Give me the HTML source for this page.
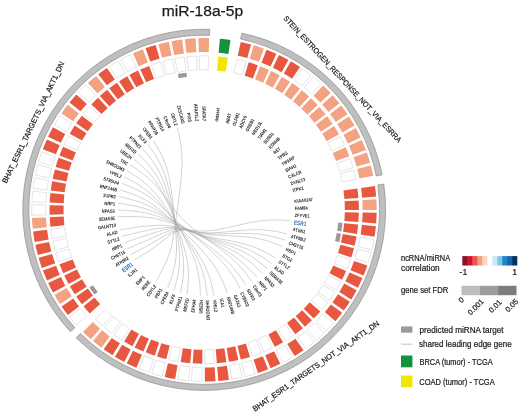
<!DOCTYPE html>
<html><head><meta charset="utf-8"><style>
html,body{margin:0;padding:0;background:#fff;}
body{width:520px;height:414px;overflow:hidden;position:relative;}
svg{position:absolute;left:0;top:0;filter:blur(0.3px);}
text{font-family:"Liberation Sans",sans-serif;}
.lab text{font-size:4.8px;fill:#1a1a1a;font-weight:bold;}
.lab text.esr{font-size:6.3px;fill:#2f6fbf;font-weight:bold;}
.t{font-size:15.2px;fill:#1a1a1a;stroke:#1a1a1a;stroke-width:0.25px;}
.gs{font-size:7.6px;fill:#1a1a1a;stroke:#1a1a1a;stroke-width:0.22px;}
.lg{font-size:8.2px;fill:#222;stroke:#222;stroke-width:0.22px;}
</style></head><body>
<svg width="520" height="414" viewBox="0 0 520 414">
<text class="t" x="161.7" y="15.6" textLength="81.4" lengthAdjust="spacingAndGlyphs">miR-18a-5p</text>
<g transform="translate(-0.92 0) scale(1.0045 1)"><path d="M241.75 33.15A180.6 180.6 0 0 1 381.36 174.73L375.48 175.9A174.6 174.6 0 0 0 240.5 39.02Z" fill="#bfbfbf" stroke="#969696" stroke-width="0.8"/>
<path d="M382.95 184.04A180.6 180.6 0 0 1 76.8 337.8L81.03 333.55A174.6 174.6 0 0 0 377.01 184.9Z" fill="#bfbfbf" stroke="#969696" stroke-width="0.8"/>
<path d="M71.05 331.81A180.6 180.6 0 0 1 209.73 29.28L209.55 35.28A174.6 174.6 0 0 0 75.47 327.76Z" fill="#bfbfbf" stroke="#969696" stroke-width="0.8"/>
<g fill="none" stroke="#a6a6a6" stroke-width="0.5"><path d="M134.63 260.36L138.96 257.58C143.28 254.8 151.94 249.24 159.56 243.4C167.18 237.57 173.77 231.47 181.03 230.07C188.29 228.66 196.21 231.94 209.27 230.8C222.33 229.66 240.53 224.09 254.76 221.67C268.99 219.24 279.25 219.95 284.38 220.31L289.51 220.67"/><path d="M130.88 254.75L135.4 252.35C139.93 249.95 148.98 245.15 157.14 240.3C165.3 235.45 172.58 230.55 180.19 229.84C187.79 229.13 195.73 232.61 208.55 232.85C221.37 233.09 239.08 230.09 252.94 229.72C266.79 229.34 276.78 231.59 281.78 232.71L286.77 233.84"/><path d="M127.58 248.86L132.28 246.83C136.98 244.79 146.37 240.71 155.02 236.82C163.66 232.93 171.55 229.22 179.46 229.16C187.38 229.11 195.33 232.7 207.97 233.65C220.61 234.59 237.95 232.87 251.51 233.53C265.07 234.18 274.85 237.2 279.75 238.71L284.64 240.22"/><path d="M124.76 242.74L129.6 241.07C134.44 239.41 144.13 236.08 153.17 233.18C162.22 230.28 170.62 227.81 178.8 228.43C186.97 229.05 194.92 232.77 207.32 234.4C219.73 236.02 236.59 235.56 249.78 237.21C262.97 238.87 272.49 242.64 277.25 244.53L282.01 246.42"/><path d="M122.42 236.41L127.36 235.16C132.3 233.91 142.18 231.41 151.52 229.58C160.85 227.76 169.63 226.61 177.97 227.99C186.32 229.36 194.22 233.26 205.98 236.13C217.74 238.99 233.35 240.82 245.55 244.32C257.76 247.81 266.55 252.96 270.95 255.53L275.35 258.11"/><path d="M120.59 229.92L125.61 229.06C130.63 228.2 140.68 226.48 150.25 225.7C159.82 224.91 168.92 225.06 177.4 227.14C185.89 229.22 193.77 233.24 205.15 236.72C216.52 240.19 231.39 243.12 243.01 247.5C254.62 251.88 262.99 257.7 267.17 260.61L271.35 263.52"/><path d="M118.47 216.61L123.59 216.52C128.71 216.43 138.95 216.26 148.8 217.54C158.65 218.82 168.1 221.57 176.76 225.04C185.41 228.51 193.27 232.72 204.23 236.84C215.18 240.96 229.22 245 240.19 250.28C251.16 255.56 259.05 262.09 263 265.35L266.95 268.61"/><path d="M118.2 209.87L123.31 210.18C128.42 210.5 138.65 211.12 148.49 213.48C158.33 215.83 167.78 219.91 176.42 224.11C185.06 228.31 192.87 232.62 203.34 237.29C213.82 241.95 226.95 246.96 237.19 253.03C247.44 259.09 254.8 266.22 258.48 269.78L262.15 273.34"/><path d="M118.46 203.13L123.7 203.93C128.95 204.74 139.44 206.35 149.53 209.96C159.63 213.57 169.33 219.16 183.62 226.85C197.9 234.54 216.77 244.31 229.76 253.13C242.76 261.95 249.88 269.81 253.44 273.75L257.01 277.68"/><path d="M119.25 196.43L124.37 197.67C129.5 198.9 139.76 201.38 149.6 206.11C159.43 210.84 168.84 217.83 181.89 226.97C194.93 236.11 211.61 247.4 222.87 257.44C234.12 267.49 239.95 276.29 242.86 280.68L245.78 285.08"/><path d="M120.56 189.81L125.49 191.48C130.43 193.14 140.3 196.47 149.7 202.31C159.1 208.16 168.03 216.52 179.01 227.13C190 237.74 203.05 250.59 211.41 261.89C219.77 273.19 223.44 282.94 225.28 287.82L227.11 292.69"/><path d="M124.71 176.99L129.32 179.4C133.94 181.82 143.17 186.65 151.77 194.5C160.36 202.36 168.32 213.24 177.51 225.43C186.71 237.62 197.15 251.13 203.42 262.98C209.69 274.84 211.8 285.05 212.85 290.15L213.91 295.25"/><path d="M127.52 170.86L131.94 173.63C136.35 176.4 145.18 181.93 153.25 190.74C161.33 199.55 168.65 211.62 176.87 224.5C185.08 237.37 194.18 251.05 199.39 263.06C204.59 275.07 205.89 285.41 206.54 290.58L207.19 295.75"/><path d="M134.55 159.35L138.52 162.78C142.49 166.21 150.42 173.07 157.33 183.65C164.24 194.23 170.12 208.53 176.92 222.59C183.71 236.65 191.42 250.46 195.5 262.61C199.58 274.76 200.02 285.24 200.24 290.48L200.46 295.72"/><path d="M138.72 154.05L142.36 157.77C146.01 161.49 153.3 168.94 159.4 180.32C165.5 191.69 170.41 207 175.4 221.44C180.38 235.88 185.46 249.44 187.42 261.4C189.39 273.37 188.25 283.73 187.68 288.91L187.11 294.08"/><path d="M143.29 149.09L146.63 153.09C149.98 157.08 156.66 165.08 161.97 177.2C167.29 189.32 171.23 205.57 175.07 220.35C178.91 235.14 182.66 248.46 183.56 260.24C184.46 272.01 182.51 282.25 181.54 287.37L180.57 292.49"/><path d="M148.23 144.5L151.25 148.75C154.27 153 160.31 161.49 164.78 174.29C169.25 187.09 172.15 204.2 174.83 219.25C177.5 234.29 179.95 247.26 179.8 258.77C179.66 270.28 176.91 280.33 175.54 285.36L174.17 290.39"/><path d="M153.52 140.32L156.2 144.79C158.88 149.26 164.24 158.2 167.81 171.61C171.39 185.03 173.19 202.92 174.68 218.12C176.17 233.33 177.34 245.85 176.17 257.01C175 268.17 171.48 277.98 169.72 282.89L167.96 287.79"/><path d="M177.45 128.07L178.68 133.2C179.91 138.33 182.38 148.59 182.12 163.81C181.87 179.03 178.88 199.21 176.7 215C174.51 230.79 173.12 242.18 169.84 252.48C166.57 262.78 161.4 271.98 158.82 276.58L156.24 281.19"/><path d="M130.81 164.97L135.31 167.99C139.81 171 148.82 177.04 156.94 186.58C165.07 196.12 172.31 209.15 184.76 221.18C197.2 233.2 214.85 244.22 226.85 254.12C238.85 264.02 245.19 272.81 248.36 277.2L251.54 281.6"/><path d="M122.38 183.32L127.29 185.32C132.2 187.33 142.03 191.35 151.3 198.14C160.58 204.93 169.31 214.49 181.41 225.29C193.51 236.1 208.99 248.14 219.27 258.82C229.56 269.49 234.66 278.8 237.21 283.45L239.76 288.1"/></g>
<path d="M240.56 41.99A171.7 171.7 0 0 1 250.88 44.57L247.07 58.04A157.7 157.7 0 0 0 237.59 55.68Z" fill="#e8573f"/>
<path d="M236.81 59.29A154 154 0 0 1 246.07 61.6L242.26 75.07A140 140 0 0 0 233.85 72.97Z" fill="#fff" stroke="#c8c8c8" stroke-width="0.5"/>
<path d="M253.57 45.35A171.7 171.7 0 0 1 263.66 48.72L258.81 61.86A157.7 157.7 0 0 0 249.55 58.76Z" fill="#f3a282"/>
<path d="M248.48 62.3A154 154 0 0 1 257.53 65.33L252.68 78.46A140 140 0 0 0 244.46 75.71Z" fill="#e8573f"/>
<path d="M266.28 49.72A171.7 171.7 0 0 1 276.08 53.87L270.22 66.58A157.7 157.7 0 0 0 261.22 62.77Z" fill="#e8573f"/>
<path d="M259.88 66.22A154 154 0 0 1 268.67 69.94L262.81 82.66A140 140 0 0 0 254.82 79.27Z" fill="#f3a282"/>
<path d="M278.61 55.06A171.7 171.7 0 0 1 288.05 59.97L281.21 72.18A157.7 157.7 0 0 0 272.55 67.68Z" fill="#e8573f"/>
<path d="M270.94 71.01A154 154 0 0 1 279.41 75.41L272.57 87.63A140 140 0 0 0 264.87 83.63Z" fill="#f3a282"/>
<path d="M290.49 61.36A171.7 171.7 0 0 1 299.51 66.99L291.74 78.63A157.7 157.7 0 0 0 283.45 73.46Z" fill="#e8573f"/>
<path d="M281.59 76.66A154 154 0 0 1 289.69 81.71L281.92 93.35A140 140 0 0 0 274.56 88.76Z" fill="#f3a282"/>
<path d="M301.83 68.56A171.7 171.7 0 0 1 310.39 74.88L301.73 85.88A157.7 157.7 0 0 0 293.87 80.08Z" fill="#fff" stroke="#c8c8c8" stroke-width="0.5"/>
<path d="M291.77 83.12A154 154 0 0 1 299.45 88.79L290.79 99.79A140 140 0 0 0 283.81 94.64Z" fill="#f3a282"/>
<path d="M312.58 76.63A171.7 171.7 0 0 1 320.62 83.6L311.13 93.89A157.7 157.7 0 0 0 303.75 87.49Z" fill="#fff" stroke="#c8c8c8" stroke-width="0.5"/>
<path d="M301.41 90.36A154 154 0 0 1 308.62 96.61L299.13 106.9A140 140 0 0 0 292.57 101.22Z" fill="#f3a282"/>
<path d="M322.67 85.52A171.7 171.7 0 0 1 330.13 93.09L319.87 102.61A157.7 157.7 0 0 0 313.01 95.65Z" fill="#f3a282"/>
<path d="M310.45 98.33A154 154 0 0 1 317.15 105.12L306.88 114.64A140 140 0 0 0 300.79 108.46Z" fill="#f3a282"/>
<path d="M332.02 95.16A171.7 171.7 0 0 1 338.88 103.3L327.9 111.98A157.7 157.7 0 0 0 321.6 104.51Z" fill="#f3a282"/>
<path d="M318.85 106.98A154 154 0 0 1 324.99 114.28L314.01 122.96A140 140 0 0 0 308.42 116.33Z" fill="#f3a282"/>
<path d="M340.6 105.51A171.7 171.7 0 0 1 346.79 114.16L335.17 121.96A157.7 157.7 0 0 0 329.48 114.01Z" fill="#f3a282"/>
<path d="M326.54 116.26A154 154 0 0 1 332.1 124.02L320.47 131.82A140 140 0 0 0 315.42 124.77Z" fill="#f3a282"/>
<path d="M348.34 116.5A171.7 171.7 0 0 1 353.84 125.6L341.64 132.47A157.7 157.7 0 0 0 336.59 124.11Z" fill="#f3a282"/>
<path d="M333.48 126.12A154 154 0 0 1 338.41 134.28L326.21 141.15A140 140 0 0 0 321.73 133.72Z" fill="#f3a282"/>
<path d="M355.19 128.06A171.7 171.7 0 0 1 359.97 137.57L347.27 143.46A157.7 157.7 0 0 0 342.88 134.72Z" fill="#f3a282"/>
<path d="M339.63 136.49A154 154 0 0 1 343.91 145.01L331.21 150.9A140 140 0 0 0 327.32 143.15Z" fill="#fff" stroke="#c8c8c8" stroke-width="0.5"/>
<path d="M361.13 140.12A171.7 171.7 0 0 1 365.14 149.97L352.02 154.85A157.7 157.7 0 0 0 348.33 145.8Z" fill="#f3a282"/>
<path d="M344.95 147.3A154 154 0 0 1 348.55 156.14L335.43 161.02A140 140 0 0 0 332.15 152.98Z" fill="#f3a282"/>
<path d="M366.09 152.61A171.7 171.7 0 0 1 369.33 162.74L355.86 166.58A157.7 157.7 0 0 0 352.89 157.27Z" fill="#f3a282"/>
<path d="M349.41 158.5A154 154 0 0 1 352.3 167.59L338.84 171.43A140 140 0 0 0 336.2 163.17Z" fill="#fff" stroke="#c8c8c8" stroke-width="0.5"/>
<path d="M370.07 165.44A171.7 171.7 0 0 1 372.5 175.8L358.78 178.57A157.7 157.7 0 0 0 356.55 169.06Z" fill="#f3a282"/>
<path d="M352.97 170.02A154 154 0 0 1 355.15 179.31L341.43 182.08A140 140 0 0 0 339.45 173.63Z" fill="#fff" stroke="#c8c8c8" stroke-width="0.5"/>
<path d="M374.24 185.98A171.7 171.7 0 0 1 375.39 196.55L361.43 197.63A157.7 157.7 0 0 0 360.37 187.92Z" fill="#e8573f"/>
<path d="M356.71 188.43A154 154 0 0 1 357.74 197.92L343.78 199A140 140 0 0 0 342.85 190.38Z" fill="#e8573f"/>
<path d="M375.58 199.35A171.7 171.7 0 0 1 375.9 209.98L361.9 209.97A157.7 157.7 0 0 0 361.61 200.2Z" fill="#f3a282"/>
<path d="M357.91 200.43A154 154 0 0 1 358.2 209.96L344.2 209.95A140 140 0 0 0 343.94 201.28Z" fill="#e8573f"/>
<path d="M375.87 212.79A171.7 171.7 0 0 1 375.36 223.41L361.4 222.3A157.7 157.7 0 0 0 361.88 212.54Z" fill="#e8573f"/>
<path d="M358.18 212.48A154 154 0 0 1 357.72 222.01L343.76 220.9A140 140 0 0 0 344.18 212.24Z" fill="#e8573f"/>
<path d="M375.11 226.21A171.7 171.7 0 0 1 373.77 236.76L359.94 234.56A157.7 157.7 0 0 0 361.18 224.87Z" fill="#e8573f"/>
<path d="M357.5 224.51A154 154 0 0 1 356.29 233.98L342.46 231.78A140 140 0 0 0 343.56 223.18Z" fill="#e8573f"/>
<path d="M341.87 223.01A138.3 138.3 0 0 1 340.78 231.51L336.54 230.84A134 134 0 0 0 337.59 222.6Z" fill="#9a9a9a"/>
<path d="M373.31 239.52A171.7 171.7 0 0 1 371.14 249.94L357.53 246.67A157.7 157.7 0 0 0 359.52 237.1Z" fill="#fff" stroke="#c8c8c8" stroke-width="0.5"/>
<path d="M355.87 236.46A154 154 0 0 1 353.93 245.8L340.32 242.53A140 140 0 0 0 342.09 234.04Z" fill="#e8573f"/>
<path d="M340.41 233.74A138.3 138.3 0 0 1 338.67 242.13L334.49 241.12A134 134 0 0 0 336.18 233Z" fill="#9a9a9a"/>
<path d="M370.46 252.66A171.7 171.7 0 0 1 367.49 262.87L354.18 258.55A157.7 157.7 0 0 0 356.91 249.17Z" fill="#fff" stroke="#c8c8c8" stroke-width="0.5"/>
<path d="M353.32 248.24A154 154 0 0 1 350.66 257.4L337.34 253.07A140 140 0 0 0 339.77 244.75Z" fill="#e8573f"/>
<path d="M366.6 265.53A171.7 171.7 0 0 1 362.84 275.48L349.91 270.13A157.7 157.7 0 0 0 353.36 260.99Z" fill="#e8573f"/>
<path d="M349.86 259.79A154 154 0 0 1 346.49 268.71L333.55 263.36A140 140 0 0 0 336.62 255.24Z" fill="#fff" stroke="#c8c8c8" stroke-width="0.5"/>
<path d="M361.75 278.06A171.7 171.7 0 0 1 357.22 287.69L344.74 281.34A157.7 157.7 0 0 0 348.9 272.5Z" fill="#e8573f"/>
<path d="M345.51 271.03A154 154 0 0 1 341.44 279.66L328.97 273.31A140 140 0 0 0 332.66 265.46Z" fill="#e8573f"/>
<path d="M355.92 290.18A171.7 171.7 0 0 1 350.66 299.42L338.71 292.11A157.7 157.7 0 0 0 343.55 283.62Z" fill="#e8573f"/>
<path d="M340.28 281.89A154 154 0 0 1 335.56 290.18L323.62 282.87A140 140 0 0 0 327.91 275.34Z" fill="#fff" stroke="#c8c8c8" stroke-width="0.5"/>
<path d="M349.17 301.8A171.7 171.7 0 0 1 343.2 310.6L331.86 302.38A157.7 157.7 0 0 0 337.35 294.3Z" fill="#e8573f"/>
<path d="M334.23 292.32A154 154 0 0 1 328.87 300.21L317.54 291.99A140 140 0 0 0 322.41 284.81Z" fill="#fff" stroke="#c8c8c8" stroke-width="0.5"/>
<path d="M341.53 312.86A171.7 171.7 0 0 1 334.89 321.16L324.23 312.08A157.7 157.7 0 0 0 330.34 304.45Z" fill="#e8573f"/>
<path d="M327.38 302.23A154 154 0 0 1 321.42 309.68L310.76 300.6A140 140 0 0 0 316.18 293.83Z" fill="#fff" stroke="#c8c8c8" stroke-width="0.5"/>
<path d="M333.05 323.28A171.7 171.7 0 0 1 325.78 331.04L315.86 321.16A157.7 157.7 0 0 0 322.55 314.03Z" fill="#fff" stroke="#c8c8c8" stroke-width="0.5"/>
<path d="M319.77 311.58A154 154 0 0 1 313.24 318.54L303.33 308.66A140 140 0 0 0 309.26 302.33Z" fill="#e8573f"/>
<path d="M323.78 333.01A171.7 171.7 0 0 1 315.92 340.18L306.81 329.55A157.7 157.7 0 0 0 314.03 322.97Z" fill="#fff" stroke="#c8c8c8" stroke-width="0.5"/>
<path d="M311.45 320.31A154 154 0 0 1 304.4 326.74L295.3 316.11A140 140 0 0 0 301.7 310.26Z" fill="#e8573f"/>
<path d="M313.78 341.99A171.7 171.7 0 0 1 305.38 348.52L297.13 337.21A157.7 157.7 0 0 0 304.84 331.21Z" fill="#fff" stroke="#c8c8c8" stroke-width="0.5"/>
<path d="M302.48 328.36A154 154 0 0 1 294.95 334.22L286.7 322.91A140 140 0 0 0 293.55 317.58Z" fill="#e8573f"/>
<path d="M303.1 350.15A171.7 171.7 0 0 1 294.22 356.01L286.88 344.09A157.7 157.7 0 0 0 295.04 338.71Z" fill="#e8573f"/>
<path d="M292.91 335.69A154 154 0 0 1 284.94 340.94L277.6 329.01A140 140 0 0 0 284.84 324.24Z" fill="#fff" stroke="#c8c8c8" stroke-width="0.5"/>
<path d="M291.82 357.46A171.7 171.7 0 0 1 282.51 362.6L276.13 350.14A157.7 157.7 0 0 0 284.68 345.42Z" fill="#fff" stroke="#c8c8c8" stroke-width="0.5"/>
<path d="M282.79 342.24A154 154 0 0 1 274.44 346.85L268.05 334.39A140 140 0 0 0 275.64 330.2Z" fill="#e8573f"/>
<path d="M280 363.86A171.7 171.7 0 0 1 270.32 368.26L264.93 355.34A157.7 157.7 0 0 0 273.82 351.3Z" fill="#e8573f"/>
<path d="M272.19 347.98A154 154 0 0 1 263.5 351.92L258.11 339A140 140 0 0 0 266.01 335.42Z" fill="#fff" stroke="#c8c8c8" stroke-width="0.5"/>
<path d="M267.72 369.32A171.7 171.7 0 0 1 257.72 372.94L253.36 359.64A157.7 157.7 0 0 0 262.54 356.31Z" fill="#e8573f"/>
<path d="M261.17 352.87A154 154 0 0 1 252.21 356.13L247.84 342.82A140 140 0 0 0 255.99 339.87Z" fill="#fff" stroke="#c8c8c8" stroke-width="0.5"/>
<path d="M255.05 373.8A171.7 171.7 0 0 1 244.8 376.63L241.49 363.03A157.7 157.7 0 0 0 250.9 360.43Z" fill="#fff" stroke="#c8c8c8" stroke-width="0.5"/>
<path d="M249.81 356.89A154 154 0 0 1 240.61 359.43L237.3 345.83A140 140 0 0 0 245.66 343.52Z" fill="#e8573f"/>
<path d="M242.07 377.27A171.7 171.7 0 0 1 231.62 379.3L229.39 365.48A157.7 157.7 0 0 0 238.98 363.62Z" fill="#fff" stroke="#c8c8c8" stroke-width="0.5"/>
<path d="M238.16 360.01A154 154 0 0 1 228.8 361.82L226.56 348A140 140 0 0 0 235.08 346.35Z" fill="#e8573f"/>
<path d="M228.85 379.72A171.7 171.7 0 0 1 218.28 380.92L217.14 366.97A157.7 157.7 0 0 0 226.84 365.87Z" fill="#e8573f"/>
<path d="M226.31 362.2A154 154 0 0 1 216.83 363.28L215.68 349.33A140 140 0 0 0 224.3 348.35Z" fill="#e8573f"/>
<path d="M215.49 381.13A171.7 171.7 0 0 1 204.86 381.5L204.8 367.5A157.7 157.7 0 0 0 214.57 367.16Z" fill="#e8573f"/>
<path d="M214.32 363.47A154 154 0 0 1 204.79 363.8L204.74 349.8A140 140 0 0 0 213.4 349.5Z" fill="#fff" stroke="#c8c8c8" stroke-width="0.5"/>
<path d="M202.05 381.49A171.7 171.7 0 0 1 191.42 381.02L192.47 367.06A157.7 157.7 0 0 0 202.23 367.49Z" fill="#fff" stroke="#c8c8c8" stroke-width="0.5"/>
<path d="M202.27 363.79A154 154 0 0 1 192.74 363.37L193.78 349.41A140 140 0 0 0 202.45 349.79Z" fill="#e8573f"/>
<path d="M188.63 380.79A171.7 171.7 0 0 1 178.07 379.5L180.2 365.66A157.7 157.7 0 0 0 189.9 366.85Z" fill="#fff" stroke="#c8c8c8" stroke-width="0.5"/>
<path d="M190.23 363.17A154 154 0 0 1 180.77 362.01L182.9 348.17A140 140 0 0 0 191.5 349.22Z" fill="#e8573f"/>
<path d="M175.3 379.05A171.7 171.7 0 0 1 164.88 376.94L168.08 363.31A157.7 157.7 0 0 0 177.66 365.25Z" fill="#e8573f"/>
<path d="M178.28 361.6A154 154 0 0 1 168.93 359.71L172.14 346.08A140 140 0 0 0 180.64 347.8Z" fill="#fff" stroke="#c8c8c8" stroke-width="0.5"/>
<path d="M162.15 376.27A171.7 171.7 0 0 1 151.93 373.35L156.19 360.01A157.7 157.7 0 0 0 165.58 362.7Z" fill="#fff" stroke="#c8c8c8" stroke-width="0.5"/>
<path d="M166.49 359.11A154 154 0 0 1 157.31 356.49L161.58 343.15A140 140 0 0 0 169.92 345.54Z" fill="#e8573f"/>
<path d="M149.26 372.47A171.7 171.7 0 0 1 139.29 368.76L144.59 355.8A157.7 157.7 0 0 0 153.74 359.21Z" fill="#fff" stroke="#c8c8c8" stroke-width="0.5"/>
<path d="M154.92 355.7A154 154 0 0 1 145.99 352.37L151.28 339.41A140 140 0 0 0 159.4 342.44Z" fill="#e8573f"/>
<path d="M136.71 367.68A171.7 171.7 0 0 1 127.06 363.2L133.35 350.69A157.7 157.7 0 0 0 142.21 354.81Z" fill="#e8573f"/>
<path d="M143.66 351.4A154 154 0 0 1 135.01 347.38L141.3 334.88A140 140 0 0 0 149.17 338.53Z" fill="#e8573f"/>
<path d="M124.56 361.92A171.7 171.7 0 0 1 115.3 356.69L122.55 344.72A157.7 157.7 0 0 0 131.06 349.51Z" fill="#e8573f"/>
<path d="M132.77 346.23A154 154 0 0 1 124.46 341.55L131.71 329.57A140 140 0 0 0 139.27 333.83Z" fill="#e8573f"/>
<path d="M112.91 355.22A171.7 171.7 0 0 1 104.08 349.29L112.24 337.92A157.7 157.7 0 0 0 120.35 343.36Z" fill="#e8573f"/>
<path d="M122.32 340.23A154 154 0 0 1 114.4 334.91L122.57 323.54A140 140 0 0 0 129.76 328.37Z" fill="#fff" stroke="#c8c8c8" stroke-width="0.5"/>
<path d="M101.82 347.63A171.7 171.7 0 0 1 93.48 341.03L102.51 330.33A157.7 157.7 0 0 0 110.16 336.4Z" fill="#f3a282"/>
<path d="M112.37 333.43A154 154 0 0 1 104.89 327.5L113.92 316.8A140 140 0 0 0 120.72 322.19Z" fill="#fff" stroke="#c8c8c8" stroke-width="0.5"/>
<path d="M91.35 339.2A171.7 171.7 0 0 1 83.55 331.97L93.39 322.01A157.7 157.7 0 0 0 100.55 328.65Z" fill="#f3a282"/>
<path d="M102.98 325.86A154 154 0 0 1 95.99 319.37L105.83 309.41A140 140 0 0 0 112.18 315.31Z" fill="#fff" stroke="#c8c8c8" stroke-width="0.5"/>
<path d="M77.15 325.3A171.7 171.7 0 0 1 70.25 317.21L81.17 308.45A157.7 157.7 0 0 0 87.51 315.88Z" fill="#fff" stroke="#c8c8c8" stroke-width="0.5"/>
<path d="M90.25 313.39A154 154 0 0 1 84.06 306.14L94.98 297.38A140 140 0 0 0 100.61 303.98Z" fill="#e8573f"/>
<path d="M68.49 314.99A171.7 171.7 0 0 1 62.24 306.38L73.82 298.51A157.7 157.7 0 0 0 79.56 306.41Z" fill="#e8573f"/>
<path d="M82.48 304.15A154 154 0 0 1 76.87 296.43L88.45 288.55A140 140 0 0 0 93.55 295.57Z" fill="#e8573f"/>
<path d="M94.89 294.53A138.3 138.3 0 0 1 89.86 287.6L93.41 285.18A134 134 0 0 0 98.29 291.89Z" fill="#9a9a9a"/>
<path d="M60.67 304.03A171.7 171.7 0 0 1 55.11 294.96L67.26 288.02A157.7 157.7 0 0 0 72.37 296.35Z" fill="#f3a282"/>
<path d="M75.46 294.32A154 154 0 0 1 70.48 286.18L82.63 279.24A140 140 0 0 0 87.17 286.63Z" fill="#e8573f"/>
<path d="M53.72 292.49A171.7 171.7 0 0 1 48.89 283.01L61.56 277.04A157.7 157.7 0 0 0 65.99 285.75Z" fill="#e8573f"/>
<path d="M69.24 283.97A154 154 0 0 1 64.9 275.47L77.57 269.5A140 140 0 0 0 81.51 277.22Z" fill="#e8573f"/>
<path d="M47.71 280.44A171.7 171.7 0 0 1 43.63 270.62L56.72 265.66A157.7 157.7 0 0 0 60.47 274.68Z" fill="#e8573f"/>
<path d="M63.84 273.16A154 154 0 0 1 60.18 264.35L73.28 259.39A140 140 0 0 0 76.6 267.4Z" fill="#e8573f"/>
<path d="M42.65 267.96A171.7 171.7 0 0 1 39.36 257.85L52.8 253.93A157.7 157.7 0 0 0 55.82 263.22Z" fill="#e8573f"/>
<path d="M59.3 261.97A154 154 0 0 1 56.35 252.89L69.79 248.98A140 140 0 0 0 72.48 257.22Z" fill="#fff" stroke="#c8c8c8" stroke-width="0.5"/>
<path d="M38.59 255.12A171.7 171.7 0 0 1 36.1 244.78L49.81 241.93A157.7 157.7 0 0 0 52.09 251.43Z" fill="#e8573f"/>
<path d="M55.66 250.45A154 154 0 0 1 53.43 241.17L67.14 238.32A140 140 0 0 0 69.17 246.75Z" fill="#fff" stroke="#c8c8c8" stroke-width="0.5"/>
<path d="M35.55 242A171.7 171.7 0 0 1 33.88 231.5L47.76 229.73A157.7 157.7 0 0 0 49.3 239.38Z" fill="#e8573f"/>
<path d="M52.93 238.68A154 154 0 0 1 51.43 229.26L65.32 227.49A140 140 0 0 0 66.68 236.06Z" fill="#fff" stroke="#c8c8c8" stroke-width="0.5"/>
<path d="M33.54 228.69A171.7 171.7 0 0 1 32.7 218.08L46.68 217.41A157.7 157.7 0 0 0 47.46 227.15Z" fill="#f3a282"/>
<path d="M51.13 226.74A154 154 0 0 1 50.38 217.23L64.36 216.55A140 140 0 0 0 65.05 225.2Z" fill="#e8573f"/>
<path d="M32.59 215.25A171.7 171.7 0 0 1 32.58 204.62L46.57 205.04A157.7 157.7 0 0 0 46.58 214.81Z" fill="#fff" stroke="#c8c8c8" stroke-width="0.5"/>
<path d="M50.28 214.69A154 154 0 0 1 50.27 205.15L64.26 205.57A140 140 0 0 0 64.27 214.25Z" fill="#e8573f"/>
<path d="M32.69 201.79A171.7 171.7 0 0 1 33.51 191.18L47.43 192.7A157.7 157.7 0 0 0 46.67 202.44Z" fill="#fff" stroke="#c8c8c8" stroke-width="0.5"/>
<path d="M50.37 202.61A154 154 0 0 1 51.11 193.1L65.03 194.62A140 140 0 0 0 64.35 203.27Z" fill="#e8573f"/>
<path d="M33.84 188.37A171.7 171.7 0 0 1 35.5 177.86L49.25 180.47A157.7 157.7 0 0 0 47.73 190.12Z" fill="#fff" stroke="#c8c8c8" stroke-width="0.5"/>
<path d="M51.4 190.58A154 154 0 0 1 52.89 181.15L66.64 183.76A140 140 0 0 0 65.29 192.33Z" fill="#e8573f"/>
<path d="M36.05 175.08A171.7 171.7 0 0 1 38.52 164.74L52.03 168.41A157.7 157.7 0 0 0 49.76 177.91Z" fill="#fff" stroke="#c8c8c8" stroke-width="0.5"/>
<path d="M53.38 178.66A154 154 0 0 1 55.6 169.38L69.11 173.06A140 140 0 0 0 67.09 181.49Z" fill="#e8573f"/>
<path d="M39.28 162.01A171.7 171.7 0 0 1 42.56 151.89L55.74 156.61A157.7 157.7 0 0 0 52.73 165.91Z" fill="#fff" stroke="#c8c8c8" stroke-width="0.5"/>
<path d="M56.28 166.94A154 154 0 0 1 59.22 157.86L72.4 162.58A140 140 0 0 0 69.73 170.84Z" fill="#e8573f"/>
<path d="M43.54 149.23A171.7 171.7 0 0 1 47.6 139.4L60.36 145.14A157.7 157.7 0 0 0 56.64 154.17Z" fill="#e8573f"/>
<path d="M60.1 155.48A154 154 0 0 1 63.74 146.66L76.51 152.4A140 140 0 0 0 73.2 160.42Z" fill="#e8573f"/>
<path d="M48.78 136.83A171.7 171.7 0 0 1 53.59 127.35L65.87 134.07A157.7 157.7 0 0 0 61.45 142.78Z" fill="#e8573f"/>
<path d="M64.8 144.35A154 154 0 0 1 69.12 135.85L81.4 142.57A140 140 0 0 0 77.47 150.3Z" fill="#fff" stroke="#c8c8c8" stroke-width="0.5"/>
<path d="M54.97 124.87A171.7 171.7 0 0 1 60.52 115.8L72.23 123.46A157.7 157.7 0 0 0 67.14 131.8Z" fill="#fff" stroke="#c8c8c8" stroke-width="0.5"/>
<path d="M70.36 133.63A154 154 0 0 1 75.33 125.49L87.05 133.15A140 140 0 0 0 82.53 140.55Z" fill="#e8573f"/>
<path d="M62.09 113.44A171.7 171.7 0 0 1 68.33 104.82L79.41 113.38A157.7 157.7 0 0 0 73.68 121.3Z" fill="#f3a282"/>
<path d="M76.74 123.37A154 154 0 0 1 82.34 115.65L93.41 124.21A140 140 0 0 0 88.33 131.23Z" fill="#e8573f"/>
<path d="M70.08 102.6A171.7 171.7 0 0 1 76.97 94.5L87.35 103.9A157.7 157.7 0 0 0 81.01 111.34Z" fill="#e8573f"/>
<path d="M83.9 113.65A154 154 0 0 1 90.09 106.38L100.46 115.79A140 140 0 0 0 94.84 122.39Z" fill="#fff" stroke="#c8c8c8" stroke-width="0.5"/>
<path d="M78.89 92.42A171.7 171.7 0 0 1 86.4 84.88L96.01 95.07A157.7 157.7 0 0 0 89.11 101.99Z" fill="#fff" stroke="#c8c8c8" stroke-width="0.5"/>
<path d="M91.81 104.52A154 154 0 0 1 98.54 97.76L108.15 107.95A140 140 0 0 0 102.03 114.09Z" fill="#e8573f"/>
<path d="M88.48 82.96A171.7 171.7 0 0 1 96.55 76.03L105.33 86.94A157.7 157.7 0 0 0 97.91 93.3Z" fill="#f3a282"/>
<path d="M100.41 96.03A154 154 0 0 1 107.65 89.82L116.43 100.73A140 140 0 0 0 109.84 106.38Z" fill="#e8573f"/>
<path d="M98.77 74.28A171.7 171.7 0 0 1 107.37 68.01L115.26 79.57A157.7 157.7 0 0 0 107.37 85.33Z" fill="#e8573f"/>
<path d="M109.64 88.25A154 154 0 0 1 117.35 82.63L125.25 94.19A140 140 0 0 0 118.24 99.3Z" fill="#e8573f"/>
<path d="M109.72 66.43A171.7 171.7 0 0 1 118.78 60.86L125.74 73A157.7 157.7 0 0 0 117.42 78.12Z" fill="#fff" stroke="#c8c8c8" stroke-width="0.5"/>
<path d="M119.46 81.21A154 154 0 0 1 127.58 76.21L134.55 88.36A140 140 0 0 0 127.16 92.9Z" fill="#e8573f"/>
<path d="M121.25 59.47A171.7 171.7 0 0 1 130.71 54.62L136.71 67.27A157.7 157.7 0 0 0 128.01 71.73Z" fill="#fff" stroke="#c8c8c8" stroke-width="0.5"/>
<path d="M129.8 74.97A154 154 0 0 1 138.29 70.62L144.28 83.27A140 140 0 0 0 136.56 87.22Z" fill="#e8573f"/>
<path d="M133.28 53.43A171.7 171.7 0 0 1 143.1 49.34L148.08 62.42A157.7 157.7 0 0 0 139.07 66.18Z" fill="#f3a282"/>
<path d="M140.59 69.55A154 154 0 0 1 149.4 65.88L154.38 78.96A140 140 0 0 0 146.38 82.3Z" fill="#e8573f"/>
<path d="M145.76 48.35A171.7 171.7 0 0 1 155.87 45.04L159.81 58.48A157.7 157.7 0 0 0 150.52 61.52Z" fill="#e8573f"/>
<path d="M151.78 65A154 154 0 0 1 160.85 62.03L164.79 75.46A140 140 0 0 0 156.55 78.16Z" fill="#fff" stroke="#c8c8c8" stroke-width="0.5"/>
<path d="M158.59 44.27A171.7 171.7 0 0 1 168.93 41.76L171.8 55.46A157.7 157.7 0 0 0 162.31 57.77Z" fill="#f3a282"/>
<path d="M163.29 61.33A154 154 0 0 1 172.56 59.08L175.44 72.79A140 140 0 0 0 167.01 74.83Z" fill="#fff" stroke="#c8c8c8" stroke-width="0.5"/>
<path d="M171.7 41.2A171.7 171.7 0 0 1 182.2 39.51L184 53.4A157.7 157.7 0 0 0 174.35 54.95Z" fill="#f3a282"/>
<path d="M175.05 58.58A154 154 0 0 1 184.47 57.07L186.27 70.95A140 140 0 0 0 177.7 72.33Z" fill="#fff" stroke="#c8c8c8" stroke-width="0.5"/>
<path d="M178.02 74A138.3 138.3 0 0 1 186.48 72.64L187.03 76.9A134 134 0 0 0 178.84 78.22Z" fill="#9a9a9a"/>
<path d="M185.02 39.18A171.7 171.7 0 0 1 195.62 38.31L196.32 52.3A157.7 157.7 0 0 0 186.58 53.09Z" fill="#f3a282"/>
<path d="M186.99 56.76A154 154 0 0 1 196.5 55.99L197.2 69.97A140 140 0 0 0 188.56 70.68Z" fill="#fff" stroke="#c8c8c8" stroke-width="0.5"/>
<path d="M198.45 38.2A171.7 171.7 0 0 1 209.08 38.17L208.69 52.16A157.7 157.7 0 0 0 198.92 52.19Z" fill="#f3a282"/>
<path d="M199.04 55.89A154 154 0 0 1 208.58 55.86L208.18 69.86A140 140 0 0 0 199.51 69.88Z" fill="#fff" stroke="#c8c8c8" stroke-width="0.5"/>
<path d="M219.84 38.81A171.7 171.7 0 0 1 230.39 40.11L228.26 53.95A157.7 157.7 0 0 0 218.56 52.76Z" fill="#13923c"/>
<path d="M218.22 56.44A154 154 0 0 1 227.69 57.6L225.56 71.44A140 140 0 0 0 216.95 70.38Z" fill="#f2e600"/>
<g class="lab" transform="translate(0.6 0.7)"><text transform="translate(225.88 122.86) rotate(-76) scale(0.83 1)" text-anchor="start" dy="0.45em">ABAT</text><text transform="translate(232.61 124.82) rotate(-71.51) scale(0.83 1)" text-anchor="start" dy="0.45em">OLFM1</text><text transform="translate(239.17 127.31) rotate(-67.03) scale(0.83 1)" text-anchor="start" dy="0.45em">ADCY9</text><text transform="translate(245.51 130.29) rotate(-62.54) scale(0.83 1)" text-anchor="start" dy="0.45em">GREB1</text><text transform="translate(251.61 133.77) rotate(-58.06) scale(0.83 1)" text-anchor="start" dy="0.45em">MED13L</text><text transform="translate(257.41 137.71) rotate(-53.57) scale(0.83 1)" text-anchor="start" dy="0.45em">TIAM1</text><text transform="translate(262.88 142.09) rotate(-49.08) scale(0.83 1)" text-anchor="start" dy="0.45em">SUSD3</text><text transform="translate(268 146.89) rotate(-44.6) scale(0.83 1)" text-anchor="start" dy="0.45em">KDM4B</text><text transform="translate(272.72 152.07) rotate(-40.11) scale(0.83 1)" text-anchor="start" dy="0.45em">RET</text><text transform="translate(277.03 157.61) rotate(-35.63) scale(0.83 1)" text-anchor="start" dy="0.45em">TPBG</text><text transform="translate(280.89 163.47) rotate(-31.14) scale(0.83 1)" text-anchor="start" dy="0.45em">TIPARP</text><text transform="translate(284.28 169.61) rotate(-26.65) scale(0.83 1)" text-anchor="start" dy="0.45em">SIAH2</text><text transform="translate(287.18 175.99) rotate(-22.17) scale(0.83 1)" text-anchor="start" dy="0.45em">CALCR</text><text transform="translate(289.57 182.59) rotate(-17.68) scale(0.83 1)" text-anchor="start" dy="0.45em">DYNLT3</text><text transform="translate(291.43 189.35) rotate(-13.2) scale(0.83 1)" text-anchor="start" dy="0.45em">ITPK1</text><text transform="translate(293.28 200.12) rotate(-6.2) scale(0.83 1)" text-anchor="start" dy="0.45em">KIAA0247</text><text transform="translate(293.76 207.12) rotate(-1.71) scale(0.83 1)" text-anchor="start" dy="0.45em">FAM84</text><text transform="translate(293.7 214.13) rotate(2.77) scale(0.83 1)" text-anchor="start" dy="0.45em">ZFYVE1</text><text transform="translate(293.08 221.12) rotate(7.26) scale(0.75 1)" text-anchor="start" dy="0.45em" class="esr">ESR1</text><text transform="translate(291.92 228.04) rotate(11.74) scale(0.83 1)" text-anchor="start" dy="0.45em">ATXN1</text><text transform="translate(290.23 234.84) rotate(16.23) scale(0.83 1)" text-anchor="start" dy="0.45em">ATP8B2</text><text transform="translate(288.01 241.49) rotate(20.72) scale(0.83 1)" text-anchor="start" dy="0.45em">CHST15</text><text transform="translate(285.27 247.95) rotate(25.2) scale(0.83 1)" text-anchor="start" dy="0.45em">HBP1</text><text transform="translate(282.04 254.18) rotate(29.69) scale(0.83 1)" text-anchor="start" dy="0.45em">BTG2</text><text transform="translate(278.33 260.13) rotate(34.17) scale(0.83 1)" text-anchor="start" dy="0.45em">SYTL2</text><text transform="translate(274.17 265.77) rotate(38.66) scale(0.83 1)" text-anchor="start" dy="0.45em">ALAD</text><text transform="translate(269.57 271.07) rotate(43.15) scale(0.83 1)" text-anchor="start" dy="0.45em">SEMA3E</text><text transform="translate(264.58 276) rotate(47.63) scale(0.83 1)" text-anchor="start" dy="0.45em">NPAS3</text><text transform="translate(259.22 280.52) rotate(52.12) scale(0.83 1)" text-anchor="start" dy="0.45em">NRP1</text><text transform="translate(253.52 284.61) rotate(56.6) scale(0.83 1)" text-anchor="start" dy="0.45em">C9orf3</text><text transform="translate(247.52 288.23) rotate(61.09) scale(0.83 1)" text-anchor="start" dy="0.45em">S1PR3</text><text transform="translate(241.25 291.38) rotate(65.58) scale(0.83 1)" text-anchor="start" dy="0.45em">CYB5D2</text><text transform="translate(234.75 294.03) rotate(70.06) scale(0.83 1)" text-anchor="start" dy="0.45em">GATA3</text><text transform="translate(228.07 296.16) rotate(74.55) scale(0.83 1)" text-anchor="start" dy="0.45em">RNF144B</text><text transform="translate(221.24 297.76) rotate(79.03) scale(0.83 1)" text-anchor="start" dy="0.45em">ICA1</text><text transform="translate(214.31 298.83) rotate(83.52) scale(0.83 1)" text-anchor="start" dy="0.45em">YPEL2</text><text transform="translate(207.32 299.35) rotate(88.01) scale(0.83 1)" text-anchor="start" dy="0.45em">SHROOM3</text><text transform="translate(200.3 299.32) rotate(-87.51) scale(0.83 1)" text-anchor="end" dy="0.45em">UBE2H</text><text transform="translate(193.31 298.74) rotate(-83.02) scale(0.83 1)" text-anchor="end" dy="0.45em">EPHA4</text><text transform="translate(186.39 297.61) rotate(-78.54) scale(0.83 1)" text-anchor="end" dy="0.45em">MEF2D</text><text transform="translate(179.58 295.95) rotate(-74.05) scale(0.83 1)" text-anchor="end" dy="0.45em">PTPN21</text><text transform="translate(172.92 293.76) rotate(-69.56) scale(0.83 1)" text-anchor="end" dy="0.45em">KLF9</text><text transform="translate(166.44 291.06) rotate(-65.08) scale(0.83 1)" text-anchor="end" dy="0.45em">CPEB4</text><text transform="translate(160.2 287.85) rotate(-60.59) scale(0.83 1)" text-anchor="end" dy="0.45em">PBX1</text><text transform="translate(154.23 284.17) rotate(-56.11) scale(0.83 1)" text-anchor="end" dy="0.45em">CDYL2</text><text transform="translate(148.57 280.04) rotate(-51.62) scale(0.83 1)" text-anchor="end" dy="0.45em">RERE</text><text transform="translate(143.25 275.47) rotate(-47.13) scale(0.83 1)" text-anchor="end" dy="0.45em">EMP1</text><text transform="translate(136.07 267.99) rotate(-40.5) scale(0.83 1)" text-anchor="end" dy="0.45em">IL1R1</text><text transform="translate(131.72 262.47) rotate(-36) scale(0.75 1)" text-anchor="end" dy="0.45em" class="esr">ESR1</text><text transform="translate(127.81 256.63) rotate(-31.51) scale(0.83 1)" text-anchor="end" dy="0.45em">ATP8B2</text><text transform="translate(124.38 250.5) rotate(-27.01) scale(0.83 1)" text-anchor="end" dy="0.45em">CHST15</text><text transform="translate(121.43 244.12) rotate(-22.52) scale(0.83 1)" text-anchor="end" dy="0.45em">HBP1</text><text transform="translate(119 237.53) rotate(-18.03) scale(0.83 1)" text-anchor="end" dy="0.45em">SYTL2</text><text transform="translate(117.09 230.76) rotate(-13.53) scale(0.83 1)" text-anchor="end" dy="0.45em">ALAD</text><text transform="translate(115.71 223.87) rotate(-9.04) scale(0.83 1)" text-anchor="end" dy="0.45em">GALNT10</text><text transform="translate(114.88 216.89) rotate(-4.54) scale(0.83 1)" text-anchor="end" dy="0.45em">SEMA3E</text><text transform="translate(114.6 209.87) rotate(-0.05) scale(0.83 1)" text-anchor="end" dy="0.45em">NPAS3</text><text transform="translate(114.87 202.85) rotate(4.45) scale(0.83 1)" text-anchor="end" dy="0.45em">NRP1</text><text transform="translate(115.69 195.87) rotate(8.94) scale(0.83 1)" text-anchor="end" dy="0.45em">S1PR3</text><text transform="translate(117.05 188.97) rotate(13.44) scale(0.83 1)" text-anchor="end" dy="0.45em">RNF144B</text><text transform="translate(118.95 182.21) rotate(17.94) scale(0.83 1)" text-anchor="end" dy="0.45em">ST8SIA4</text><text transform="translate(121.38 175.61) rotate(22.43) scale(0.83 1)" text-anchor="end" dy="0.45em">YPEL2</text><text transform="translate(124.31 169.23) rotate(26.93) scale(0.83 1)" text-anchor="end" dy="0.45em">SHROOM3</text><text transform="translate(127.74 163.09) rotate(31.42) scale(0.83 1)" text-anchor="end" dy="0.45em">TNC</text><text transform="translate(131.63 157.24) rotate(35.92) scale(0.83 1)" text-anchor="end" dy="0.45em">UBE2H</text><text transform="translate(135.98 151.72) rotate(40.41) scale(0.83 1)" text-anchor="end" dy="0.45em">MEF2D</text><text transform="translate(140.74 146.55) rotate(44.9) scale(0.83 1)" text-anchor="end" dy="0.45em">PTPN21</text><text transform="translate(145.89 141.77) rotate(49.4) scale(0.83 1)" text-anchor="end" dy="0.45em">KLF9</text><text transform="translate(151.4 137.41) rotate(53.89) scale(0.83 1)" text-anchor="end" dy="0.45em">CPEB4</text><text transform="translate(157.24 133.49) rotate(58.39) scale(0.83 1)" text-anchor="end" dy="0.45em">PPAP2B</text><text transform="translate(163.36 130.05) rotate(62.88) scale(0.83 1)" text-anchor="end" dy="0.45em">PTPN14</text><text transform="translate(169.74 127.09) rotate(67.38) scale(0.83 1)" text-anchor="end" dy="0.45em">C9orf4</text><text transform="translate(176.33 124.65) rotate(71.88) scale(0.83 1)" text-anchor="end" dy="0.45em">CDYL2</text><text transform="translate(183.09 122.72) rotate(76.37) scale(0.83 1)" text-anchor="end" dy="0.45em">ZKSCAN5</text><text transform="translate(189.97 121.34) rotate(80.87) scale(0.83 1)" text-anchor="end" dy="0.45em">PIGS</text><text transform="translate(196.95 120.49) rotate(85.36) scale(0.83 1)" text-anchor="end" dy="0.45em">AFAP1L2</text><text transform="translate(203.97 120.2) rotate(89.86) scale(0.83 1)" text-anchor="end" dy="0.45em">SPATA7</text><text transform="translate(215.12 120.87) rotate(-83) scale(0.83 1)" text-anchor="start" dy="0.45em">dataset</text></g></g>
<text class="gs" transform="translate(283,18.7) rotate(47.17)" textLength="169.5" lengthAdjust="spacingAndGlyphs">STEIN_ESTROGEN_RESPONSE_NOT_VIA_ESRRA</text>
<text class="gs" transform="translate(6.58,183.85) rotate(-64.3)" textLength="133.8" lengthAdjust="spacingAndGlyphs">BHAT_ESR1_TARGETS_VIA_AKT1_DN</text>
<text class="gs" transform="translate(254.9,411.8) rotate(-34.9)" textLength="152.4" lengthAdjust="spacingAndGlyphs">BHAT_ESR1_TARGETS_NOT_VIA_AKT1_DN</text>
<text class="lg" x="401" y="261.3" textLength="49.2" lengthAdjust="spacingAndGlyphs">ncRNA/miRNA</text>
<text class="lg" x="401" y="271.1" textLength="38.6" lengthAdjust="spacingAndGlyphs">correlation</text>
<rect x="462.3" y="256.1" width="5.6" height="9.4" fill="#8a1027"/>
<rect x="467.3" y="256.1" width="5.6" height="9.4" fill="#d0142c"/>
<rect x="472.3" y="256.1" width="5.6" height="9.4" fill="#e8554a"/>
<rect x="477.3" y="256.1" width="5.6" height="9.4" fill="#f3a080"/>
<rect x="482.3" y="256.1" width="5.6" height="9.4" fill="#fdd5c0"/>
<rect x="487.3" y="256.1" width="5.6" height="9.4" fill="#ffffff"/>
<rect x="492.3" y="256.1" width="5.6" height="9.4" fill="#cfe6f3"/>
<rect x="497.3" y="256.1" width="5.6" height="9.4" fill="#82c3e3"/>
<rect x="502.3" y="256.1" width="5.6" height="9.4" fill="#1a8ac6"/>
<rect x="507.3" y="256.1" width="5.6" height="9.4" fill="#1d63a8"/>
<rect x="512.3" y="256.1" width="5" height="9.4" fill="#0a2f5e"/>
<text class="lg" x="459.6" y="275" style="font-size:8.6px">-1</text>
<text class="lg" x="512.2" y="275" style="font-size:8.6px">1</text>
<text class="lg" x="401" y="293" textLength="47.2" lengthAdjust="spacingAndGlyphs">gene set FDR</text>
<rect x="461.5" y="285.8" width="19.2" height="9.4" fill="#bdbdbd"/>
<rect x="480.1" y="285.8" width="18.7" height="9.4" fill="#9c9c9c"/>
<rect x="498.2" y="285.8" width="18.3" height="9.4" fill="#7c7c7c"/>
<text class="lg" style="font-size:7.6px" text-anchor="end" transform="translate(464.6,300.2) rotate(-45)">0</text>
<text class="lg" style="font-size:7.6px" text-anchor="end" transform="translate(484.2,302) rotate(-45)">0.001</text>
<text class="lg" style="font-size:7.6px" text-anchor="end" transform="translate(502.2,302.8) rotate(-45)">0.01</text>
<text class="lg" style="font-size:7.6px" text-anchor="end" transform="translate(518.8,302) rotate(-45)">0.05</text>
<rect x="401" y="326.4" width="11.4" height="6.3" fill="#9a9a9a"/>
<text class="lg" x="419.5" y="332.7" textLength="84.1" lengthAdjust="spacingAndGlyphs">predicted miRNA target</text>
<line x1="401" y1="344.2" x2="412.4" y2="344.2" stroke="#b4b4b4" stroke-width="0.8"/>
<text class="lg" x="419" y="347" textLength="92.6" lengthAdjust="spacingAndGlyphs">shared leading edge gene</text>
<rect x="401" y="355.5" width="11.4" height="11.8" fill="#13923c"/>
<text class="lg" x="419.5" y="364.8" textLength="73.1" lengthAdjust="spacingAndGlyphs">BRCA (tumor) - TCGA</text>
<rect x="401" y="375.5" width="11.4" height="11.8" fill="#f2e600"/>
<text class="lg" x="419.3" y="384.6" textLength="75.4" lengthAdjust="spacingAndGlyphs">COAD (tumor) - TCGA</text>
</svg>
</body></html>
